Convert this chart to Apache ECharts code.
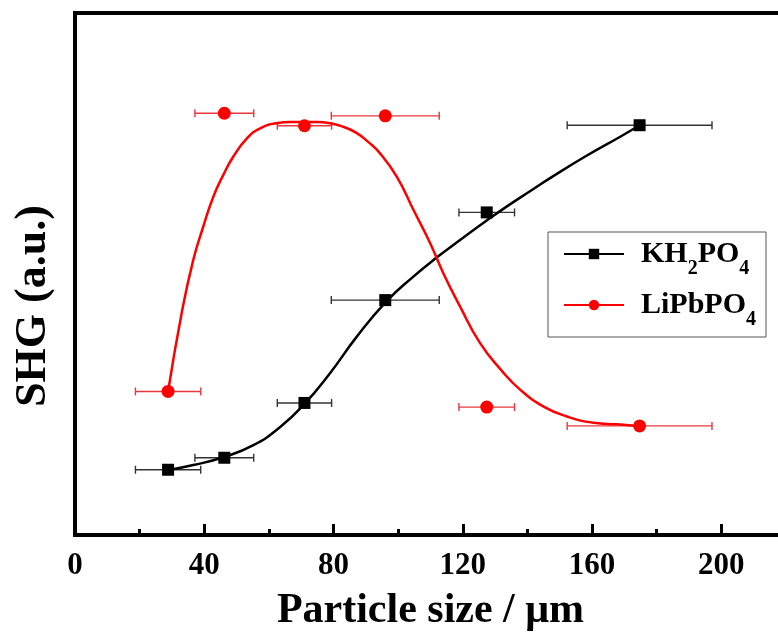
<!DOCTYPE html>
<html>
<head>
<meta charset="utf-8">
<script src="https://cdn.jsdelivr.net/npm/echarts@6/dist/echarts.min.js"></script>
<style>
  html, body { margin: 0; padding: 0; background: #fff; }
  #chart { width: 778px; height: 633px; }
</style>
</head>
<body>
<div id="chart"></div>
<script>
// measured points (particle size, SHG in a.u.)
const sizes = [28.8, 46.2, 71.0, 96.0, 127.4, 174.7];
const sizeErr = [10.1, 9.1, 8.4, 16.7, 8.6, 22.4];
const khShg = [12.5, 14.8, 25.3, 45.0, 61.8, 78.5];
const liShg = [27.5, 80.8, 78.4, 80.3, 24.5, 20.9];

// fitted curves
const khFitX = [29.4, 36.6, 45.9, 55.2, 63.5, 70.7, 78.9, 87.2, 96.3, 104.7, 112.0, 120.2, 127.5, 134.0, 140.9, 148.1, 158.4, 168.7, 174.7];
const khFitY = [12.5, 13.4, 14.9, 17.2, 20.7, 24.9, 31.0, 38.0, 44.7, 49.5, 53.2, 57.0, 60.3, 63.1, 65.9, 68.8, 72.7, 76.3, 78.5];
const liFitX = [28.8, 33.0, 36.6, 39.7, 42.8, 45.9, 49.0, 53.2, 57.3, 62.4, 66.5, 70.7, 74.8, 78.9, 83.0, 87.2, 90.7, 94.4, 99.6, 104.7, 109.9, 114.0, 119.2, 125.4, 132.0, 137.8, 145.0, 152.2, 160.5, 167.7, 174.4];
const liFitY = [27.5, 42.5, 52.7, 59.1, 64.8, 69.0, 72.5, 76.0, 77.9, 78.9, 79.1, 79.1, 79.1, 78.9, 78.2, 77.0, 75.3, 73.1, 68.6, 62.3, 55.9, 50.1, 43.7, 36.7, 31.5, 27.8, 24.6, 22.7, 21.5, 21.2, 20.9];

const seriesNames = ['KH2PO4', 'LiPbPO4'];
const legendLabels = ['{f|KH}{s|2}{b|PO}{s|4}', '{f|LiPbPO}{s|4}'];
const seriesColors = ['#000000', '#ff0000'];
const barColors = ['#333333', '#e8383d'];

const FONT = 'Liberation Serif, Times New Roman, serif';

function zip(xs, ys) {
  return xs.map((x, i) => [x, ys[i]]);
}

function errBars(ys) {
  return sizes.map((x, i) => [x - sizeErr[i], x + sizeErr[i], ys[i]]);
}

function errRender(color) {
  return function (params, api) {
    let lo = api.coord([api.value(0), api.value(2)]);
    let hi = api.coord([api.value(1), api.value(2)]);
    let st = { stroke: color, lineWidth: 1.4 };
    let h = 4;
    return {
      type: 'group',
      children: [
        { type: 'line', shape: { x1: lo[0], y1: lo[1], x2: hi[0], y2: hi[1] }, style: st },
        { type: 'line', shape: { x1: lo[0], y1: lo[1] - h, x2: lo[0], y2: lo[1] + h }, style: st },
        { type: 'line', shape: { x1: hi[0], y1: hi[1] - h, x2: hi[0], y2: hi[1] + h }, style: st }
      ]
    };
  };
}

let chart = echarts.init(document.getElementById('chart'));

let option = {
  animation: false,
  backgroundColor: '#ffffff',
  grid: {
    left: 75, width: 711, top: 13, height: 522,
    outerBoundsMode: 'none',
    show: true, borderColor: '#000', borderWidth: 4, backgroundColor: 'transparent'
  },
  legend: {
    data: seriesNames,
    left: 548, top: 232,
    orient: 'vertical',
    padding: [7, 10, 7, 15],
    itemGap: 11,
    itemWidth: 60,
    itemHeight: 13,
    borderColor: '#555',
    borderWidth: 1,
    formatter: function (name) {
      return legendLabels[seriesNames.indexOf(name)];
    },
    textStyle: {
      fontFamily: FONT,
      rich: {
        f: { fontFamily: FONT, fontSize: 30, fontWeight: 'bold', color: '#000', lineHeight: 30, verticalAlign: 'top', padding: [0, 0, 0, 12] },
        b: { fontFamily: FONT, fontSize: 30, fontWeight: 'bold', color: '#000', lineHeight: 30, verticalAlign: 'top' },
        s: { fontFamily: FONT, fontSize: 20, fontWeight: 'bold', color: '#000', lineHeight: 20, verticalAlign: 'top', padding: [20, 0, 0, 0] }
      }
    }
  },
  xAxis: {
    type: 'value',
    min: 0, max: 220, interval: 40,
    name: 'Particle size / μm',
    nameLocation: 'middle',
    nameGap: 55,
    nameTextStyle: { fontFamily: FONT, fontSize: 42, fontWeight: 'bold', color: '#000' },
    axisLine: { show: true, lineStyle: { color: '#000', width: 4 } },
    axisTick: { show: true, inside: true, length: 11, lineStyle: { color: '#000', width: 3 } },
    minorTick: { show: true, splitNumber: 2, length: 6, lineStyle: { color: '#000', width: 3 } },
    axisLabel: {
      margin: 15, showMaxLabel: false,
      fontFamily: FONT, fontSize: 31, fontWeight: 'bold', color: '#000'
    },
    splitLine: { show: false }
  },
  yAxis: {
    type: 'value',
    min: 0, max: 100,
    axisLine: { show: true, lineStyle: { color: '#000', width: 4 } },
    axisTick: { show: false },
    axisLabel: { show: false },
    splitLine: { show: false }
  },
  graphic: [{
    type: 'text',
    x: 34, y: 306,
    rotation: Math.PI / 2,
    style: {
      text: 'SHG (a.u.)',
      fontFamily: FONT, fontSize: 44, fontWeight: 'bold', fill: '#000',
      align: 'center', verticalAlign: 'middle'
    }
  }],
  series: [
    {
      name: seriesNames[0], type: 'line', data: zip(khFitX, khFitY),
      smooth: 0.5, showSymbol: false, symbol: 'rect', symbolSize: 11,
      color: seriesColors[0], lineStyle: { color: seriesColors[0], width: 2.5 }, z: 3
    },
    {
      name: seriesNames[1], type: 'line', data: zip(liFitX, liFitY),
      smooth: 0.5, showSymbol: false, symbol: 'circle', symbolSize: 12,
      color: seriesColors[1], lineStyle: { color: seriesColors[1], width: 2.5 }, z: 3
    },
    {
      name: 'kh-err', type: 'custom', data: errBars(khShg),
      renderItem: errRender(barColors[0]), z: 2
    },
    {
      name: 'li-err', type: 'custom', data: errBars(liShg),
      renderItem: errRender(barColors[1]), z: 2
    },
    {
      name: 'kh-pts', type: 'scatter', data: zip(sizes, khShg),
      symbol: 'rect', symbolSize: 12, itemStyle: { color: seriesColors[0], opacity: 1 }, z: 4
    },
    {
      name: 'li-pts', type: 'scatter', data: zip(sizes, liShg),
      symbol: 'circle', symbolSize: 13, itemStyle: { color: seriesColors[1], opacity: 1 }, z: 4
    }
  ]
};

chart.setOption(option);
</script>
</body>
</html>
